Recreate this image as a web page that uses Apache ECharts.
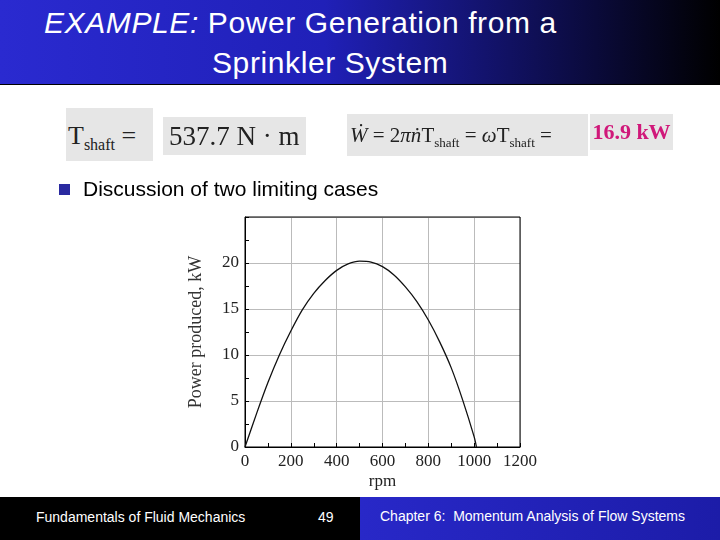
<!DOCTYPE html>
<html>
<head>
<meta charset="utf-8">
<title>sprinkler</title>
<script src="https://cdn.jsdelivr.net/npm/echarts@6/dist/echarts.min.js"></script>
<style>
  body { margin:0; width:720px; height:540px; overflow:hidden; font-family:Arial, "Liberation Sans", sans-serif; }
  #main { position:absolute; left:0; top:0; width:720px; height:540px; }
  .abs { position:absolute; }
  #title { left:0; top:0; width:720px; height:84px; border-bottom:1px solid #000;
    background:linear-gradient(to right,#2a2ad0 0%,#2020b8 45%,#000 100%); color:#fff; font-size:30px; line-height:35px; letter-spacing:0.6px; }
  .eq { background:#e6e6e6; font-family:"Liberation Serif", serif; color:#222; }
  #foot { left:0; top:497px; width:720px; height:43px; background:#000; color:#fff; font-size:14px; }
</style>
</head>
<body>
<div id="main"></div>
<div id="title" class="abs">
  <div class="abs" style="left:44px;top:5px;"><i>EXAMPLE:</i> Power Generation from a</div>
  <div class="abs" style="left:212px;top:45px;">Sprinkler System</div>
</div>
<div class="abs eq" style="left:66px;top:108px;width:85px;height:53px;font-size:26px;line-height:55px;padding-left:2px;">T<sub style="font-size:16px">shaft</sub> =</div>
<div class="abs eq" style="left:163px;top:117px;width:143px;height:38px;font-size:27px;line-height:38px;padding-left:6px;box-sizing:border-box;">537.7 N · m</div>
<div class="abs eq" style="left:347px;top:114px;width:241px;height:42px;font-size:21px;line-height:42px;padding-left:3px;box-sizing:border-box;"><i>Ẇ</i> = 2<i>πṅ</i>T<sub style="font-size:13px">shaft</sub> = <i>ω</i>T<sub style="font-size:13px">shaft</sub> =</div>
<div class="abs eq" style="left:590px;top:114px;width:83px;height:36px;font-size:22px;line-height:36px;color:#d0187a;font-weight:bold;text-align:center;">16.9 kW</div>
<div class="abs" style="left:59px;top:184px;width:11px;height:11px;background:#2a2aa0;"></div>
<div class="abs" style="left:83px;top:177px;font-size:21px;color:#000;">Discussion of two limiting cases</div>
<div id="foot" class="abs">
  <div class="abs" style="left:36px;top:12px;">Fundamentals of Fluid Mechanics</div>
  <div class="abs" style="left:318px;top:12px;">49</div>
  <div class="abs" style="left:360px;top:0;width:360px;height:43px;background:linear-gradient(to right,#2828c8,#1c1ca8);"></div>
  <div class="abs" style="left:380px;top:11px;">Chapter 6:&nbsp; Momentum Analysis of Flow Systems</div>
</div>
<script type="text/javascript">
  var rpm = [0, 50, 100, 150, 200, 250, 300, 350, 400, 450, 500, 550, 600, 650, 700, 750, 800, 850, 900, 950, 1000, 1010];
  var power = [0, 3.6, 7.0, 10.0, 12.6, 14.9, 16.7, 18.1, 19.2, 19.9, 20.2, 20.1, 19.6, 18.7, 17.4, 15.8, 13.8, 11.4, 8.6, 5.1, 1.1, 0];
  var xTicks = [0, 200, 400, 600, 800, 1000, 1200];
  var yTicks = [0, 5, 10, 15, 20];

  var data = rpm.map(function (r, i) { return [r, power[i]]; });
  var myChart = echarts.init(document.getElementById('main'));
  var serif = '"Liberation Serif", serif';
  myChart.setOption({
    animation: false,
    backgroundColor: '#fff',
    grid: { left: 245, top: 217, width: 275, height: 230 },
    xAxis: {
      type: 'value', min: 0, max: 1200, interval: 200,
      name: 'rpm', nameLocation: 'middle', nameGap: 26,
      nameTextStyle: { fontFamily: serif, fontSize: 17, color: '#222' },
      axisLine: { show: true, lineStyle: { color: '#000' } },
      axisTick: { show: true, inside: true, length: 4, lineStyle: { color: '#000' } },
      minorTick: { show: true, splitNumber: 2, length: 4, lineStyle: { color: '#000' } },
      axisLabel: { fontFamily: serif, fontSize: 17, color: '#222', margin: 6,
        formatter: function (v) { return xTicks.indexOf(v) >= 0 ? v : ''; } },
      splitLine: { show: true, lineStyle: { color: '#bbb' } }
    },
    yAxis: {
      type: 'value', min: 0, max: 25, interval: 5,
      name: 'Power produced, kW', nameLocation: 'middle', nameGap: 40,
      nameTextStyle: { fontFamily: serif, fontSize: 18, color: '#333' },
      axisLine: { show: true, lineStyle: { color: '#000' } },
      axisTick: { show: true, inside: true, length: 4, lineStyle: { color: '#000' } },
      minorTick: { show: true, splitNumber: 2, length: 4, lineStyle: { color: '#000' } },
      axisLabel: { fontFamily: serif, fontSize: 17, color: '#222', margin: 6,
        formatter: function (v) { return yTicks.indexOf(v) >= 0 ? v : ''; } },
      splitLine: { show: true, lineStyle: { color: '#bbb' } }
    },
    series: [{
      type: 'line', data: data, smooth: 0.3, symbol: 'none',
      lineStyle: { color: '#111', width: 1.3 }
    }]
  });
  // frame on top/right
  myChart.setOption({
    graphic: [{ type: 'rect', shape: { x: 245, y: 217, width: 275, height: 230 },
      style: { fill: 'none', stroke: '#000', lineWidth: 1 }, silent: true }]
  });
</script>
</body>
</html>
